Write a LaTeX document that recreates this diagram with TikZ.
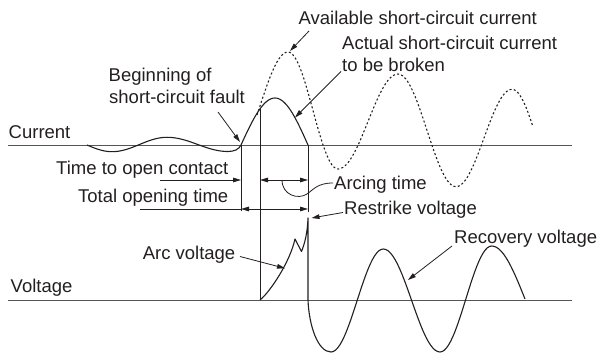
\documentclass[tikz,border=0pt]{standalone}
\usepackage{fontspec}
\setmainfont{Liberation Sans}
\usetikzlibrary{arrows.meta}
\definecolor{ink}{RGB}{35,31,32}
\definecolor{axisgray}{RGB}{85,85,85}
\begin{document}
\begin{tikzpicture}[x=1pt,y=-1pt,
  lbl/.style={font=\fontsize{18.5}{22}\selectfont, text=ink, inner sep=0pt},
  wave/.style={line width=1.1pt, draw=ink, line join=round},
  avail/.style={line width=1.1pt, draw=ink, dash pattern=on 2pt off 2.3pt},
  axisline/.style={line width=0.9pt, draw=axisgray},
  guide/.style={line width=0.8pt, draw=ink},
  dimline/.style={line width=0.8pt, draw=ink, {Triangle[length=8pt,width=4.6pt]}-{Triangle[length=8pt,width=4.6pt]}},
  lead/.style={line width=0.8pt, draw=ink, -{Triangle[length=8pt,width=4.6pt]}},
]
\useasboundingbox (0,0) rectangle (598,358);

% axes
\coordinate (cL) at (8,145); \coordinate (cR) at (572,145);
\coordinate (vL) at (8,300); \coordinate (vR) at (572,300);
\draw[axisline] (cL) -- (cR);
\draw[axisline] (vL) -- (vR);

% current: pre-fault and actual short-circuit current
\draw[wave] plot[domain=87:112,samples=12] (\x,{145 + 6.7*sin(90*(\x-87)/25)})
 -- plot[domain=112:167,samples=25] (\x,{144.5 + 7.2*cos(180*(\x-112)/55)})
 -- plot[domain=167:228,samples=25] (\x,{144.4 - 7.1*cos(180*(\x-167)/61)})
 .. controls (234,151.5) and (239,149.5) .. (241,145)
 -- plot[domain=241:275,samples=20] (\x,{145 - 47*sin(90*(\x-241)/34)})
 -- plot[domain=275:308,samples=20] (\x,{145 - 47*cos(90*(\x-275)/33)});

% available short-circuit current (dashed)
\draw[avail] plot[domain=257:288,samples=15] (\x,{106 + 54*cos(180*(\x-232)/56)})
 -- plot[domain=288:338,samples=25] (\x,{110.5 - 58.5*cos(180*(\x-288)/50)})
 -- plot[domain=338:398,samples=25] (\x,{121.5 + 47.5*cos(180*(\x-338)/60)})
 -- plot[domain=398:456,samples=25] (\x,{130.35 - 56.35*cos(180*(\x-398)/58)})
 -- plot[domain=456:512,samples=25] (\x,{138 + 48.7*cos(180*(\x-456)/56)})
 -- plot[domain=512:533,samples=12] (\x,{144.65 - 55.35*cos(180*(\x-512)/53)});

% arc voltage, restrike and recovery voltage
\draw[wave] (260,300) .. controls (270,292) and (290,262) .. (295,239)
 -- (301.5,251.5) .. controls (305,243) and (307.5,232) .. (308,218)
 -- (308,300) .. controls (309,326) and (318,352) .. (331,352)
 -- plot[domain=331:383.3,samples=25] (\x,{300.5 + 51.5*cos(180*(\x-331)/52.3)})
 -- plot[domain=383.3:440,samples=25] (\x,{300.5 - 51.5*cos(180*(\x-383.3)/56.7)})
 -- plot[domain=440:491.7,samples=25] (\x,{299 + 53*cos(180*(\x-440)/51.7)})
 -- plot[domain=491.7:525,samples=15] (\x,{299 - 53*cos(180*(\x-491.7)/66.6)});

% vertical guides
\coordinate (g1t) at (241,145); \coordinate (g1b) at (241,211);
\coordinate (g2t) at (260,108.8); \coordinate (g2b) at (260,300);
\coordinate (g3t) at (308,145); \coordinate (g3b) at (308,212);
\draw[guide] (g1t) -- (g1b);
\draw[guide] (g2t) -- (g2b);
\draw[guide] (g3t) -- (g3b);

% time dimensions
\coordinate (r1a) at (160,180); \coordinate (r1b) at (241,180);
\coordinate (r1c) at (260,180); \coordinate (r1d) at (308,180);
\draw[lead] (r1a) -- (r1b);
\draw[dimline] (r1c) -- (r1d);
\coordinate (r2a) at (140,209); \coordinate (r2b) at (241,209); \coordinate (r2c) at (308,209);
\draw[guide] (r2a) -- (r2b);
\draw[dimline] (r2b) -- (r2c);

% labels
\node[lbl, anchor=base west] (tAvail) at (298.5,25) {Available short-circuit current};
\node[lbl, anchor=base west] (tAct1) at (342,50) {Actual short-circuit current};
\node[lbl, anchor=base west] (tAct2) at (342,71.7) {to be broken};
\node[lbl, anchor=base west] (tBeg1) at (108.5,81.7) {Beginning of};
\node[lbl, anchor=base west] (tBeg2) at (109,103.3) {short-circuit fault};
\node[lbl, anchor=base west] (tCur) at (8.5,138.3) {Current};
\node[lbl, anchor=base east] (tOpen) at (228.5,175) {Time to open contact};
\node[lbl, anchor=base east] (tTotal) at (228.5,202.3) {Total opening time};
\node[lbl, anchor=base west] (tArcing) at (334,189.3) {Arcing time};
\node[lbl, anchor=base west] (tRestrike) at (344,214.3) {Restrike voltage};
\node[lbl, anchor=base west] (tRecov) at (454,243.3) {Recovery voltage};
\node[lbl, anchor=base east] (tArcV) at (235.5,259.3) {Arc voltage};
\node[lbl, anchor=base west] (tVolt) at (10.5,292.7) {Voltage};

% label leaders
\coordinate (pAvS) at (309,31);    \coordinate (pAvE) at (290,51);
\coordinate (pAcS) at (341,71.5);  \coordinate (pAcE) at (295,117.5);
\coordinate (pBgS) at (218,112);   \coordinate (pBgE) at (240,142);
\coordinate (pRsS) at (343,212.5); \coordinate (pRsE) at (311.5,218);
\coordinate (pRcS) at (452,246);   \coordinate (pRcE) at (408,280);
\coordinate (pAvS2) at (240,256.5);\coordinate (pAvE2) at (285,268.3);
\draw[lead] (pAvS) -- (pAvE);
\draw[lead] (pAcS) -- (pAcE);
\draw[lead] (pBgS) -- (pBgE);
\draw[lead] (pRsS) -- (pRsE);
\draw[lead] (pRcS) -- (pRcE);
\draw[lead] (pAvS2) -- (pAvE2);

% arcing time curly leader
\coordinate (pArS) at (282,180); \coordinate (pArE) at (333,183);
\draw[guide] (pArS) .. controls (282,195) and (298,200) .. (307,194)
  .. controls (314,189) and (318,183) .. (pArE);
\end{tikzpicture}
\end{document}
